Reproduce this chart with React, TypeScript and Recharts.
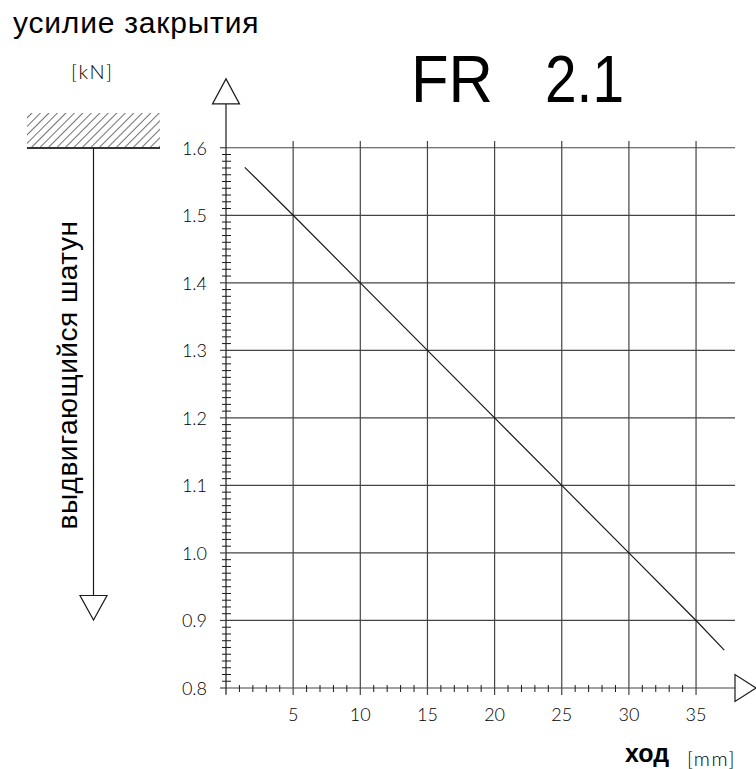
import React from "react";
import {
  ComposedChart,
  Line,
  XAxis,
  YAxis,
  CartesianGrid,
  ReferenceLine,
  ReferenceDot,
} from "recharts";

// ---- data ----
const strokeMm = [1.4, 5, 10, 15, 20, 25, 30, 35, 37.1];
const forceKN = [1.571, 1.5, 1.4, 1.3, 1.2, 1.1, 1.0, 0.9, 0.856];
const xMajorTicks = [5, 10, 15, 20, 25, 30, 35];
const yMajorTicks = [0.8, 0.9, 1.0, 1.1, 1.2, 1.3, 1.4, 1.5, 1.6];
const yTickLabels = ["0.8", "0.9", "1.0", "1.1", "1.2", "1.3", "1.4", "1.5", "1.6"];
const xAllTicks: number[] = [];
for (let i = 1; i <= 35; i++) xAllTicks.push(i);
const yAllTicks: number[] = [];
for (let i = 80; i <= 160; i++) yAllTicks.push(i / 100);

const title = "FR";
const titleNum = "2.1";
const topLabel = "усилие закрытия";
const unitY = "[kN]";
const sideLabel = "выдвигающийся шатун";
const xLabel = "ход";
const unitX = "[mm]";

const chartData = strokeMm.map((x, i) => ({ x, force: forceKN[i] }));

const INK = "#1a1a1a";
const GRID = "#444";
const TICKFONT = "Lato, 'DejaVu Sans', sans-serif";
const SANS = "'Liberation Sans', Arial, sans-serif";

const isMajorY = (v: number) => Math.abs(v * 10 - Math.round(v * 10)) < 1e-6;

const YTick = (props: any) => {
  const { x, y, payload } = props;
  const v = payload.value as number;
  if (isMajorY(v)) {
    const idx = yMajorTicks.findIndex((m) => Math.abs(m - v) < 1e-6);
    return (
      <g>
        <line x1={x - 6} x2={x} y1={y} y2={y} stroke={GRID} strokeWidth={1.2} />
        <text
          x={x - 19}
          y={y + 7}
          textAnchor="end"
          fontFamily={TICKFONT}
          fontWeight={300}
          fontSize={18}
          fill="#000"
        >
          {idx >= 0 ? yTickLabels[idx] : ""}
        </text>
      </g>
    );
  }
  return <line x1={x - 4} x2={x + 5} y1={y} y2={y} stroke={INK} strokeWidth={1} />;
};

const XTick = (props: any) => {
  const { x, y, payload } = props;
  const v = payload.value as number;
  if (xMajorTicks.includes(v)) {
    return (
      <g>
        <line x1={x} x2={x} y1={y} y2={y + 7} stroke={GRID} strokeWidth={1.2} />
        <text
          x={x}
          y={y + 33}
          textAnchor="middle"
          fontFamily={TICKFONT}
          fontWeight={300}
          fontSize={18}
          fill="#000"
        >
          {String(v)}
        </text>
      </g>
    );
  }
  return <line x1={x} x2={x} y1={y - 3} y2={y + 4} stroke={INK} strokeWidth={1} />;
};

const UpArrow = (p: any) => {
  const { cx, cy } = p;
  return (
    <path
      d={`M${cx - 13.5},${cy} L${cx + 13.5},${cy} L${cx},${cy - 25} Z`}
      fill="#fff"
      stroke={INK}
      strokeWidth={1.2}
    />
  );
};

const RightArrow = (p: any) => {
  const { cx, cy } = p;
  return (
    <path
      d={`M${cx},${cy - 13.5} L${cx},${cy + 13.5} L${cx + 21},${cy} Z`}
      fill="#fff"
      stroke={INK}
      strokeWidth={1.2}
    />
  );
};

export default function App() {
  return (
    <div style={{ position: "absolute", left: 0, top: 0, width: 756, height: 769, background: "#fff" }}>
      <ComposedChart
        width={756}
        height={769}
        data={chartData}
        margin={{ top: 141, right: 21, bottom: 41, left: 166 }}
      >
        <CartesianGrid
          horizontalValues={yMajorTicks}
          verticalValues={xMajorTicks}
          stroke={GRID}
          strokeWidth={1.2}
        />
        <XAxis
          type="number"
          dataKey="x"
          domain={[0, 37.9]}
          ticks={xAllTicks}
          interval={0}
          tick={<XTick />}
          tickLine={false}
          axisLine={false}
          tickSize={0}
          tickMargin={0}
          height={40}
        />
        <YAxis
          type="number"
          domain={[0.8, 1.61]}
          ticks={yAllTicks}
          interval={0}
          tick={<YTick />}
          tickLine={false}
          axisLine={false}
          tickSize={0}
          tickMargin={0}
          width={60}
          allowDataOverflow
        />
        <ReferenceLine
          segment={[
            { x: 0, y: 0.79 },
            { x: 0, y: 1.665 },
          ]}
          ifOverflow="visible"
          stroke={INK}
          strokeWidth={1.2}
        />
        <ReferenceDot x={0} y={1.665} ifOverflow="visible" shape={UpArrow} />
        <ReferenceDot x={37.9} y={0.8} ifOverflow="visible" shape={RightArrow} />
        <Line
          type="linear"
          dataKey="force"
          stroke={INK}
          strokeWidth={1.2}
          dot={false}
          activeDot={false}
          isAnimationActive={false}
        />
      </ComposedChart>
      <svg
        width={756}
        height={769}
        style={{ position: "absolute", left: 0, top: 0, pointerEvents: "none" }}
      >
        <defs>
          <pattern id="hatch" width="6" height="6" patternUnits="userSpaceOnUse" patternTransform="rotate(45)">
            <line x1="0" y1="0" x2="0" y2="6" stroke="#333" strokeWidth="1.4" />
          </pattern>
        </defs>
        <text x={13} y={33} fontFamily={SANS} fontSize={30} letterSpacing={0.8} fill="#000">
          {topLabel}
        </text>
        <text x={71} y={79} fontFamily={TICKFONT} fontWeight={300} fontSize={20} letterSpacing={1.5} fill="#000">
          {unitY}
        </text>
        <text x={411} y={102} fontFamily={SANS} fontSize={66} textLength={82} lengthAdjust="spacingAndGlyphs" fill="#000">
          {title}
        </text>
        <text x={545} y={102} fontFamily={SANS} fontSize={66} textLength={79} lengthAdjust="spacingAndGlyphs" fill="#000">
          {titleNum}
        </text>
        <rect x={27} y={113} width={133} height={35} fill="url(#hatch)" />
        <line x1={27} x2={160} y1={148} y2={148} stroke="#333" strokeWidth={2} />
        <line x1={93.5} x2={93.5} y1={148} y2={595.5} stroke={INK} strokeWidth={1.2} />
        <path d="M80,595.5 L107,595.5 L93.5,620 Z" fill="#fff" stroke={INK} strokeWidth={1.2} />
        <text
          x={77}
          y={375}
          transform="rotate(-90 77 375)"
          textAnchor="middle"
          fontFamily={SANS}
          fontSize={28}
          letterSpacing={0.5}
          fill="#000"
        >
          {sideLabel}
        </text>
        <text x={625} y={762} fontFamily={SANS} fontWeight={700} fontSize={25} fill="#000">
          {xLabel}
        </text>
        <text x={687} y={766} fontFamily={TICKFONT} fontWeight={300} fontSize={20} letterSpacing={1.5} fill="#000">
          {unitX}
        </text>
      </svg>
    </div>
  );
}
